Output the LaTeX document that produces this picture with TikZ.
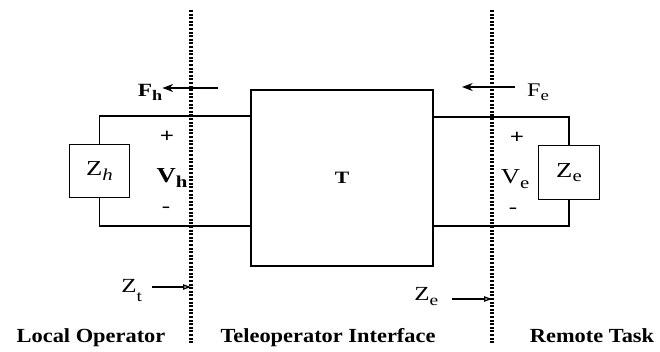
\documentclass[tikz,border=0pt]{standalone}
\usepackage{fontspec}
\setmainfont{Liberation Serif}[FakeStretch=1.25]
\newfontfamily\regionfont{Liberation Serif}[FakeStretch=1.12]
\usetikzlibrary{arrows.meta}

\newcommand\lowidx[2][-0.45ex]{\raisebox{#1}{\scalebox{0.78}{#2}}}

\begin{document}
\begin{tikzpicture}[x=0.75pt,y=-0.75pt,
  imp node/.style={draw,line width=0.9pt,minimum width=45.5pt,minimum height=40pt,
    inner sep=0pt,font=\fontsize{16}{18}\selectfont},
  wire/.style={line width=1pt},
  port/.style={line width=2.3pt,dash pattern=on 1.5pt off 1.2pt},
  force/.style={-{Stealth[length=8pt,width=6pt]},line width=1pt},
  flow/.style={-{Triangle[open,length=6pt,width=4pt]},line width=1pt},
  region/.style={font=\regionfont\fontsize{15}{17}\selectfont\bfseries,anchor=base,inner sep=0pt},
  sign/.style={font=\fontsize{15}{17}\selectfont,inner sep=0pt}]

\useasboundingbox (0,0) rectangle (660,352);

% boxes
\node[imp node] (zh) at (99.5,171) {Z\lowidx{\itshape h}};
\node[imp node] (ze) at (569,172.5) {Z\lowidx{e}};
\node[draw,line width=1pt,minimum width=136.5pt,minimum height=132pt,
  font=\fontsize{13}{15}\selectfont\bfseries] (t) at (342,178) {T};

% circuit wires
\coordinate (ht) at (0,116);
\coordinate (et) at (0,117);
\coordinate (hb) at (0,226);
\draw[wire] (zh.north) |- (t.west |- ht);
\draw[wire] (zh.south) |- (t.west |- hb);
\draw[wire] (ze.north) |- (t.east |- et);
\draw[wire] (ze.south) |- (t.east |- hb);

% port lines
\coordinate (lt) at (191,10);
\coordinate (lb) at (191,343);
\coordinate (rt) at (492,10);
\coordinate (rb) at (492,343);
\draw[port] (lt) -- (lb);
\draw[port] (rt) -- (rb);

% forces
\node[sign,font=\fontsize{14}{16}\selectfont\bfseries] (fh) at (150,92) {F\lowidx{h}};
\coordinate (fhs) at (218,88);
\draw[force] (fhs) -- (fhs -| fh.east);
\node[sign,font=\fontsize{14.5}{16}\selectfont] (fe) at (538,92) {F\lowidx{e}};
\coordinate (fes) at (515,87);
\coordinate (fee) at (462,87);
\draw[force] (fes) -- (fee);

% efforts
\node[sign,font=\fontsize{15}{17}\selectfont\bfseries] (hp) at (167,137) {+};
\node[sign,font=\fontsize{16}{18}\selectfont\bfseries] (vh) at (172,178) {V\lowidx{h}};
\node[sign] (hm) at (166,210) {-};
\node[sign,font=\fontsize{15}{17}\selectfont\bfseries] (ep) at (517,138) {+};
\node[sign,font=\fontsize{16}{18}\selectfont] (ve) at (515,179) {V\lowidx{e}};
\node[sign] (em) at (513,211) {-};

% impedances seen at the ports
\node[anchor=base west,inner sep=0pt,font=\fontsize{15}{17}\selectfont] (zt) at (121,293) {Z\lowidx[-0.9ex]{t}};
\coordinate (zts) at (152,287);
\draw[flow] (zts) -- (zts -| lt);
\node[anchor=base west,inner sep=0pt,font=\fontsize{15}{17}\selectfont] (zc) at (414,301) {Z\lowidx{e}};
\coordinate (zcs) at (452,299);
\draw[flow] (zcs) -- (zcs -| rt);

% regions
\node[region] (lo) at (91,343) {Local Operator};
\node[region] (ti) at (328,343) {Teleoperator Interface};
\node[region] (rm) at (592,343) {Remote Task};

\end{tikzpicture}
\end{document}
